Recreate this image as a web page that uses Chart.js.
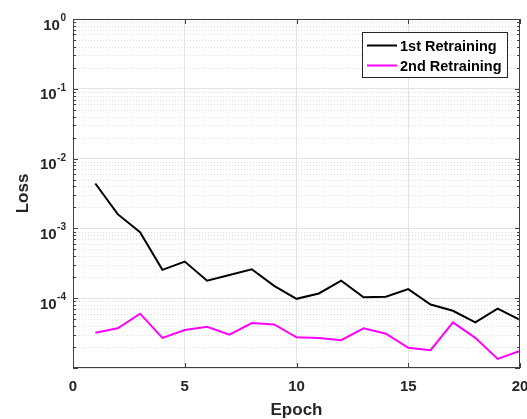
<!DOCTYPE html>
<html>
<head>
<meta charset="utf-8">
<script src="https://cdn.jsdelivr.net/npm/chart.js@4"></script>
<style>
  html, body { margin: 0; padding: 0; background: #fff; }
</style>
</head>
<body>
<canvas id="lossChart" width="527" height="419"></canvas>
<script>
// values
const epochs = [1, 2, 3, 4, 5, 6, 7, 8, 9, 10, 11, 12, 13, 14, 15, 16, 17, 18, 19, 20];
const loss1st = [4.4e-3, 1.6e-3, 8.8e-4, 2.55e-4, 3.35e-4, 1.78e-4, 2.15e-4, 2.6e-4, 1.5e-4, 9.8e-5,
                 1.17e-4, 1.78e-4, 1.03e-4, 1.05e-4, 1.35e-4, 8.1e-5, 6.6e-5, 4.5e-5, 7.1e-5, 4.9e-5];
const loss2nd = [3.2e-5, 3.7e-5, 6.0e-5, 2.7e-5, 3.5e-5, 3.9e-5, 3.0e-5, 4.4e-5, 4.2e-5, 2.75e-5,
                 2.7e-5, 2.5e-5, 3.7e-5, 3.1e-5, 1.95e-5, 1.8e-5, 4.5e-5, 2.7e-5, 1.35e-5, 1.75e-5];
const seriesNames = ['1st Retraining', '2nd Retraining'];
const xTicks = [0, 5, 10, 15, 20];
const yLabelExps = [0, -1, -2, -3, -4];
const yDecadeExps = [-5, -4, -3, -2, -1, 0];
const minorMantissas = [2, 3, 4, 5, 6, 7, 8, 9];

const FONT = "'Liberation Sans', Arial, sans-serif";
const AXIS_COLOR = '#262626';
const BOX_COLOR = '#404040';

const isDecade = v => Math.abs(Math.log10(v) - Math.round(Math.log10(v))) < 1e-6;

// MATLAB-like box, dotted minor grid, inward ticks, 10^n labels and legend
const matlabAxes = {
  id: 'matlabAxes',
  beforeDatasetsDraw(chart) {
    const { ctx, chartArea: a, scales: { y } } = chart;
    ctx.save();
    ctx.strokeStyle = '#dddddd';
    ctx.lineWidth = 1;
    ctx.setLineDash([1, 2]);
    yDecadeExps.slice(0, -1).forEach(e => {
      minorMantissas.forEach(m => {
        const py = Math.round(y.getPixelForValue(m * Math.pow(10, e))) + 0.5;
        ctx.beginPath();
        ctx.moveTo(a.left, py);
        ctx.lineTo(a.right, py);
        ctx.stroke();
      });
    });
    ctx.restore();
  },
  afterDraw(chart) {
    const { ctx, chartArea: a, scales: { x, y } } = chart;
    ctx.save();
    ctx.strokeStyle = BOX_COLOR;
    ctx.lineWidth = 1;

    // ticks pointing inward
    const tick = (x1, y1, x2, y2) => { ctx.beginPath(); ctx.moveTo(x1, y1); ctx.lineTo(x2, y2); ctx.stroke(); };
    xTicks.forEach(v => {
      const px = Math.round(x.getPixelForValue(v)) + 0.5;
      tick(px, a.bottom, px, a.bottom - 5);
      tick(px, a.top, px, a.top + 5);
    });
    yDecadeExps.forEach(e => {
      const py = Math.round(y.getPixelForValue(Math.pow(10, e))) + 0.5;
      tick(a.left, py, a.left + 5, py);
      tick(a.right, py, a.right - 5, py);
      if (e < 0) {
        minorMantissas.forEach(m => {
          const pm = Math.round(y.getPixelForValue(m * Math.pow(10, e))) + 0.5;
          tick(a.left, pm, a.left + 3, pm);
          tick(a.right, pm, a.right - 3, pm);
        });
      }
    });

    // box
    ctx.strokeRect(a.left + 0.5, a.top + 0.5, a.right - a.left - 1, a.bottom - a.top - 1);

    // y tick labels 10^n
    ctx.fillStyle = AXIS_COLOR;
    ctx.textAlign = 'right';
    ctx.textBaseline = 'alphabetic';
    yLabelExps.forEach(e => {
      const py = y.getPixelForValue(Math.pow(10, e));
      const sup = String(e);
      ctx.font = 'bold 10px ' + FONT;
      const supW = ctx.measureText(sup).width;
      ctx.fillText(sup, a.left - 7, py + 2);
      ctx.font = 'bold 15px ' + FONT;
      ctx.fillText('10', a.left - 7 - supW - 0.5, py + 10.5);
    });

    // legend
    const lx = 362, ly = 32, lw = 145, lh = 45;
    ctx.fillStyle = '#fff';
    ctx.fillRect(lx, ly, lw, lh);
    ctx.strokeStyle = AXIS_COLOR;
    ctx.strokeRect(lx + 0.5, ly + 0.5, lw, lh);
    ctx.textAlign = 'left';
    ctx.textBaseline = 'middle';
    ctx.font = 'bold 14.5px ' + FONT;
    chart.data.datasets.forEach((ds, i) => {
      const ry = ly + 13.5 + i * 20;
      ctx.strokeStyle = ds.borderColor;
      ctx.lineWidth = 2;
      ctx.beginPath();
      ctx.moveTo(lx + 5, ry);
      ctx.lineTo(lx + 35, ry);
      ctx.stroke();
      ctx.fillStyle = '#000';
      ctx.fillText(ds.label, lx + 38, ry + 1);
    });
    ctx.restore();
  }
};

new Chart(document.getElementById('lossChart'), {
  type: 'line',
  data: {
    datasets: [
      {
        label: seriesNames[0],
        data: epochs.map((e, i) => ({ x: e, y: loss1st[i] })),
        borderColor: '#000000',
        borderWidth: 2,
        pointRadius: 0,
        tension: 0
      },
      {
        label: seriesNames[1],
        data: epochs.map((e, i) => ({ x: e, y: loss2nd[i] })),
        borderColor: '#ff00ff',
        borderWidth: 2,
        pointRadius: 0,
        tension: 0
      }
    ]
  },
  options: {
    responsive: false,
    animation: false,
    devicePixelRatio: 1,
    layout: { padding: { top: 19, right: 7, left: 0, bottom: 0 } },
    plugins: { legend: { display: false }, tooltip: { enabled: false } },
    scales: {
      x: {
        type: 'linear',
        min: 0,
        max: 20,
        afterFit: s => { s.height = 51; s.paddingLeft = 0; s.paddingRight = 0; },
        afterBuildTicks: s => { s.ticks = xTicks.map(v => ({ value: v })); },
        ticks: { padding: 10, color: AXIS_COLOR, maxRotation: 0, autoSkip: false,
                 font: { family: FONT, weight: 'bold', size: 15 } },
        grid: { color: c => (c.tick && c.tick.value > 0 && c.tick.value < 20) ? '#e3e3e3' : 'rgba(0,0,0,0)',
                drawTicks: false },
        border: { display: false },
        title: { display: true, text: 'Epoch', color: AXIS_COLOR, padding: { top: 0, bottom: -2 },
                 font: { family: FONT, weight: 'bold', size: 17 } }
      },
      y: {
        type: 'logarithmic',
        min: 1e-5,
        max: 1,
        afterFit: s => { s.width = 73; },
        ticks: { display: false },
        grid: { color: c => (c.tick && isDecade(c.tick.value)) ? '#e3e3e3' : 'rgba(0,0,0,0)', drawTicks: false },
        border: { display: false },
        title: { display: true, text: 'Loss', color: AXIS_COLOR, padding: { top: 13, bottom: 0 },
                 font: { family: FONT, weight: 'bold', size: 17 } }
      }
    }
  },
  plugins: [matlabAxes]
});
</script>
</body>
</html>
